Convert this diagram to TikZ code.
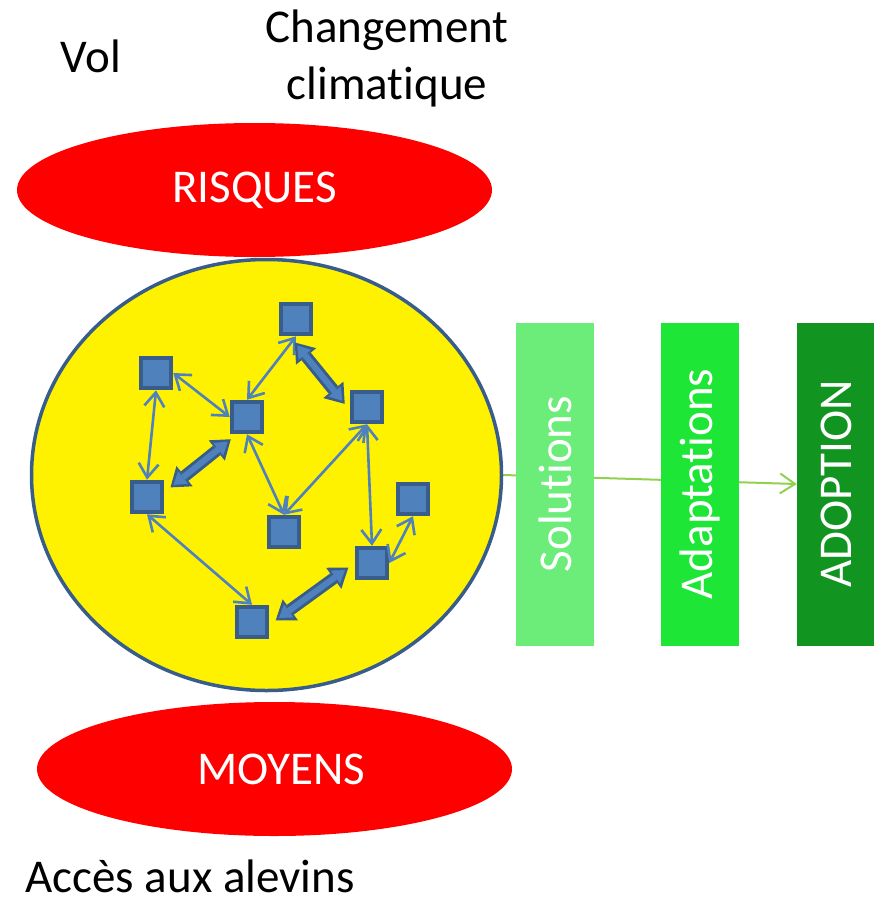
\documentclass[tikz,border=0pt]{standalone}
\usepackage{fontspec}
\setmainfont{Carlito}[Ligatures=NoCommon]
\usetikzlibrary{shapes.geometric,arrows.meta,backgrounds}

\definecolor{bleu}{HTML}{4F81BD}
\definecolor{bleufonce}{HTML}{385D8A}
\definecolor{vertclair}{HTML}{6CED7A}
\definecolor{vertmoyen}{HTML}{1DE636}
\definecolor{vertfonce}{HTML}{129421}
\definecolor{vertligne}{HTML}{92D050}

\begin{document}
\begin{tikzpicture}[x=1pt, y=-1pt,
        every node/.style={font=\fontsize{47}{57}\selectfont},
        bulle/.style={ellipse, fill=red, text=white, minimum width=475pt, minimum height=134pt, inner sep=0pt},
        carre/.style={draw=bleufonce, fill=bleu, line width=4.5pt, minimum size=30pt, inner sep=0pt},
        fine/.style={draw=bleu, line width=2.6pt, {Straight Barb[length=14pt,width=20pt]}-{Straight Barb[length=14pt,width=20pt]}},
        grosse/.style={draw=bleufonce, line width=12pt, {Triangle[length=18pt,width=26pt,line width=0pt]}-{Triangle[length=18pt,width=26pt,line width=0pt]}},
        grosseint/.style={draw=bleu, line width=6pt, {Triangle[length=12pt,width=16pt,line width=0pt]}-{Triangle[length=12pt,width=16pt,line width=0pt]}},
        boite/.style={minimum width=78pt, minimum height=323pt, text=white, inner sep=0pt}]
        \useasboundingbox (0,0) rectangle (874,899);

        % Labels
        \node[anchor=base, inner sep=0pt] (vol) at (91,73) {Vol};
        \node[align=center] (climat) at (387,58) {Changement\\climatique};
        \node[anchor=base, inner sep=0pt] (alevins) at (190,892) {Accès aux alevins};

        % Ellipses
        \node[bulle] (risques) at (254.5,190) {RISQUES};
        \node[bulle] (moyens) at (274.5,769) {\hspace*{14pt}MOYENS};
        \node[ellipse, draw=bleufonce, line width=3.5pt, fill=yellow, minimum width=470pt, minimum height=431pt] (jaune) at (266.5,475) {};

        % Network
        \foreach \nom/\x/\y in {n1/296/319, n2/156/373, n3/247/417, n4/367/407, n5/147/497,
                n6/284/532, n7/413/499, n8/372/563, n9/252/622} {
            \node[carre] (\nom) at (\x,\y) {};
        }
        \foreach \a/\b in {n1.south/n3.north, n2.east/n3.west, n2.south/n5.north, n3.south/n6.north,
                n4.south/n6.north, n4.south/n8.north, n7.south/n8.east, n5.south/n9.north} {
            \draw[fine] (\a) -- (\b);
        }
        \foreach \a/\b in {n1.-110/n4.190, n5.15/n3.-120, n9.-10/n8.west} {
            \draw[grosse, shorten <=8pt, shorten >=8pt] (\a) -- (\b);
            \draw[grosseint, shorten <=12pt, shorten >=12pt] (\a) -- (\b);
        }

        % Steps
        \node[boite, fill=vertclair] (solutions) at (555,484) {\rotatebox{90}{Solutions}};
        \node[boite, fill=vertmoyen] (adaptations) at (700,484) {\rotatebox{90}{Adaptations}};
        \node[boite, fill=vertfonce] (adoption) at (836,484) {\rotatebox{90}{ADOPTION}};

        \begin{scope}[on background layer]
            \draw[vertligne, line width=2pt, -{Straight Barb[length=15pt,width=20pt]}] (jaune.east) -- (adoption.west);
        \end{scope}
    \end{tikzpicture}
\end{document}
